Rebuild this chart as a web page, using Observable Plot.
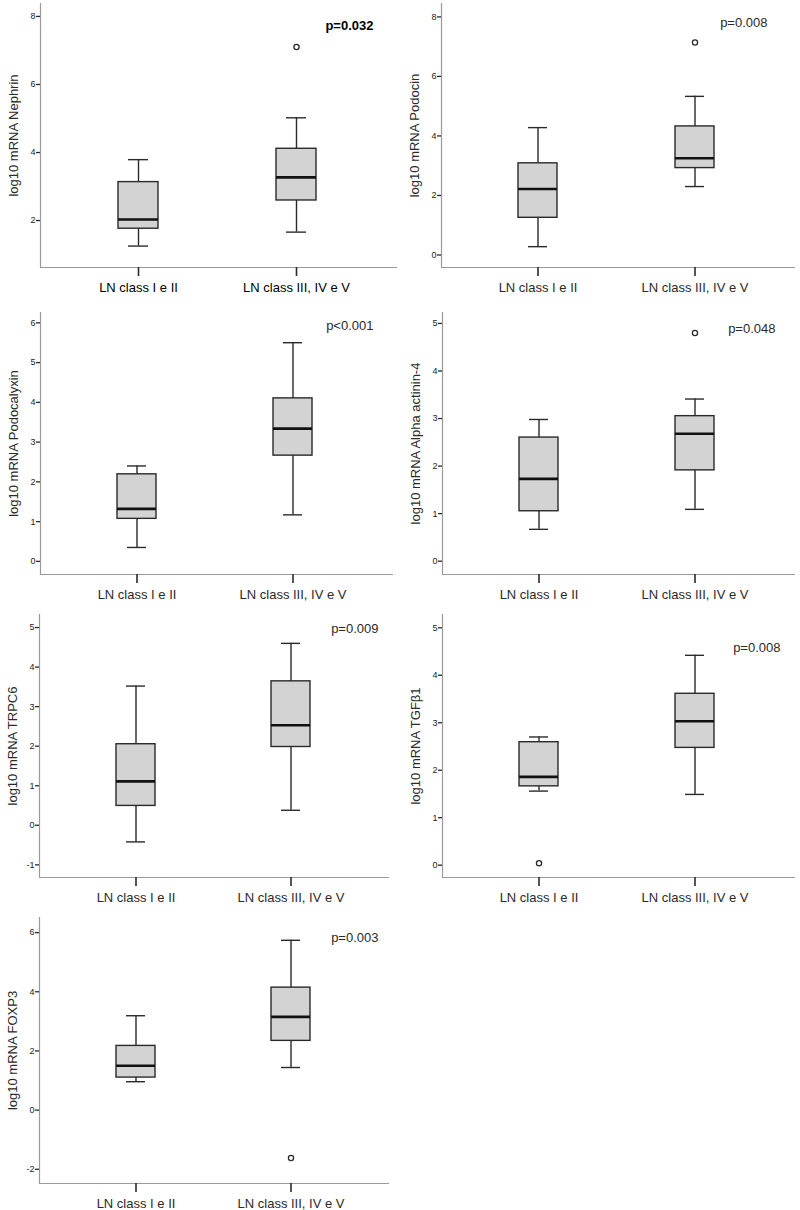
<!DOCTYPE html>
<html><head><meta charset="utf-8">
<script src="https://cdn.jsdelivr.net/npm/d3@7"></script>
<script src="https://cdn.jsdelivr.net/npm/@observablehq/plot@0.6"></script>
<style>
body{margin:0;background:#fff}
#chart{position:relative;width:800px;height:1210px;font-family:"Liberation Sans",Arial,sans-serif}
#chart svg{position:absolute}
</style>
</head><body><div id="chart"></div>
<script>
// ---- data ----
const groups = ["LN class I e II", "LN class III, IV e V"];
const axisTitles = ["log10 mRNA Nephrin", "log10 mRNA Podocin", "log10 mRNA Podocalyxin",
  "log10 mRNA Alpha actinin-4", "log10 mRNA TRPC6", "log10 mRNA TGFβ1", "log10 mRNA FOXP3"];
const pLabels = ["p=0.032", "p=0.008", "p<0.001", "p=0.048", "p=0.009", "p=0.008", "p=0.003"];
const lowWhisker  = [[1.25,1.66],[0.28,2.30],[0.35,1.17],[0.67,1.09],[-0.42,0.38],[1.56,1.49],[0.96,1.44]];
const q1          = [[1.76,2.59],[1.25,2.92],[1.07,2.66],[1.05,1.91],[0.49,1.98],[1.66,2.47],[1.10,2.34]];
const median      = [[2.03,3.27],[2.22,3.25],[1.32,3.34],[1.73,2.68],[1.11,2.53],[1.86,3.03],[1.50,3.15]];
const q3          = [[3.13,4.11],[3.08,4.32],[2.19,4.10],[2.60,3.05],[2.05,3.64],[2.59,3.61],[2.17,4.14]];
const highWhisker = [[3.79,5.02],[4.28,5.33],[2.40,5.50],[2.98,3.41],[3.52,4.60],[2.70,4.42],[3.19,5.74]];
const outlierPanel = [0, 1, 3, 5, 6];
const outlierGroup = [1, 1, 1, 0, 1];
const outlierValue = [7.10, 7.14, 4.80, 0.04, -1.62];
const yTicks = [[2,4,6,8],[0,2,4,6,8],[0,1,2,3,4,5,6],[0,1,2,3,4,5],[-1,0,1,2,3,4,5],[0,1,2,3,4,5],[-2,0,2,4,6]];
const yDomains = [[0.62,8.38],[-0.42,8.45],[-0.33,6.26],[-0.28,5.23],[-1.32,5.33],[-0.26,5.28],[-2.48,6.51]];

// ---- layout (positions & styles) ----
const layout = [
  {left:0,   top:0,   width:400, height:300, mL:40, mR:3,  mT:3,  mB:33, pDx:-24, pDy:22, bold:true},
  {left:400, top:0,   width:400, height:300, mL:41, mR:5,  mT:3,  mB:33, pDx:-28, pDy:19},
  {left:0,   top:290, width:400, height:310, mL:40, mR:7,  mT:22, mB:26, pDx:-20, pDy:13},
  {left:400, top:290, width:400, height:310, mL:42, mR:5,  mT:22, mB:26, pDx:-20, pDy:16},
  {left:0,   top:590, width:400, height:310, mL:39, mR:11, mT:24, mB:23, pDx:-11, pDy:14},
  {left:400, top:590, width:400, height:310, mL:42, mR:5,  mT:24, mB:23, pDx:-15, pDy:33},
  {left:0,   top:890, width:400, height:320, mL:39, mR:11, mT:27, mB:27, pDx:-11, pDy:20}
];
const ink = "#2a2a2a", axisGray = "#9a9a9a";

const container = document.getElementById("chart");
for (let i = 0; i < 7; i++) {
  const rows = groups.map((g, j) => ({group: g, low: lowWhisker[i][j], q1: q1[i][j],
    median: median[i][j], q3: q3[i][j], high: highWhisker[i][j]}));
  const outs = outlierValue.map((v, k) => ({panel: outlierPanel[k], group: groups[outlierGroup[k]], value: v}))
    .filter(d => d.panel === i);
  const L = layout[i];
  const plot = Plot.plot({
    width: L.width, height: L.height,
    marginLeft: L.mL, marginRight: L.mR, marginTop: L.mT, marginBottom: L.mB,
    style: {background: "transparent", fontFamily: '"Liberation Sans", Arial, sans-serif', color: ink, overflow: "visible"},
    x: {domain: groups, paddingInner: 0.75, paddingOuter: 0.5, align: 0.49},
    y: {domain: yDomains[i]},
    marks: [
      Plot.ruleY([yDomains[i][0]], {stroke: axisGray, strokeWidth: 1.2}),
      Plot.frame({anchor: "left", stroke: axisGray, strokeWidth: 1.2}),
      Plot.axisY({ticks: yTicks[i], tickSize: 4, tickPadding: 1, fontSize: 9, label: null,
        tickFormat: d => String(d), strokeWidth: 1.3, fill: "#222"}),
      Plot.axisX({tickSize: 9, tickPadding: 6, fontSize: 13, label: null, strokeWidth: 1.6,
        fill: L.bold ? "#000" : ink}),
      Plot.text([axisTitles[i]], {text: d => d, frameAnchor: "left", textAnchor: "middle",
        rotate: -90, dx: -27, fontSize: 13, fill: ink}),
      Plot.ruleX(rows, {x: "group", y1: "low", y2: "high", stroke: ink, strokeWidth: 1.4}),
      Plot.barY(rows, {x: "group", y1: "q1", y2: "q3", fill: "#d3d3d3", stroke: ink, strokeWidth: 1.4}),
      Plot.tickY(rows, {x: "group", y: "median", stroke: "#111", strokeWidth: 2.6}),
      Plot.tickY(rows, {x: "group", y: "low", insetLeft: 10, insetRight: 10, stroke: ink, strokeWidth: 1.4}),
      Plot.tickY(rows, {x: "group", y: "high", insetLeft: 10, insetRight: 10, stroke: ink, strokeWidth: 1.4}),
      Plot.dot(outs, {x: "group", y: "value", r: 2.6, stroke: ink, fill: "white", strokeWidth: 1.3}),
      Plot.text([pLabels[i]], {text: d => d, frameAnchor: "top-right", dx: L.pDx, dy: L.pDy,
        textAnchor: "end", lineAnchor: "middle", fontSize: 13, fill: L.bold ? "#000" : ink,
        fontWeight: L.bold ? "bold" : "normal"})
    ]
  });
  plot.style.left = L.left + "px";
  plot.style.top = L.top + "px";
  container.append(plot);
}
</script>
</body></html>
